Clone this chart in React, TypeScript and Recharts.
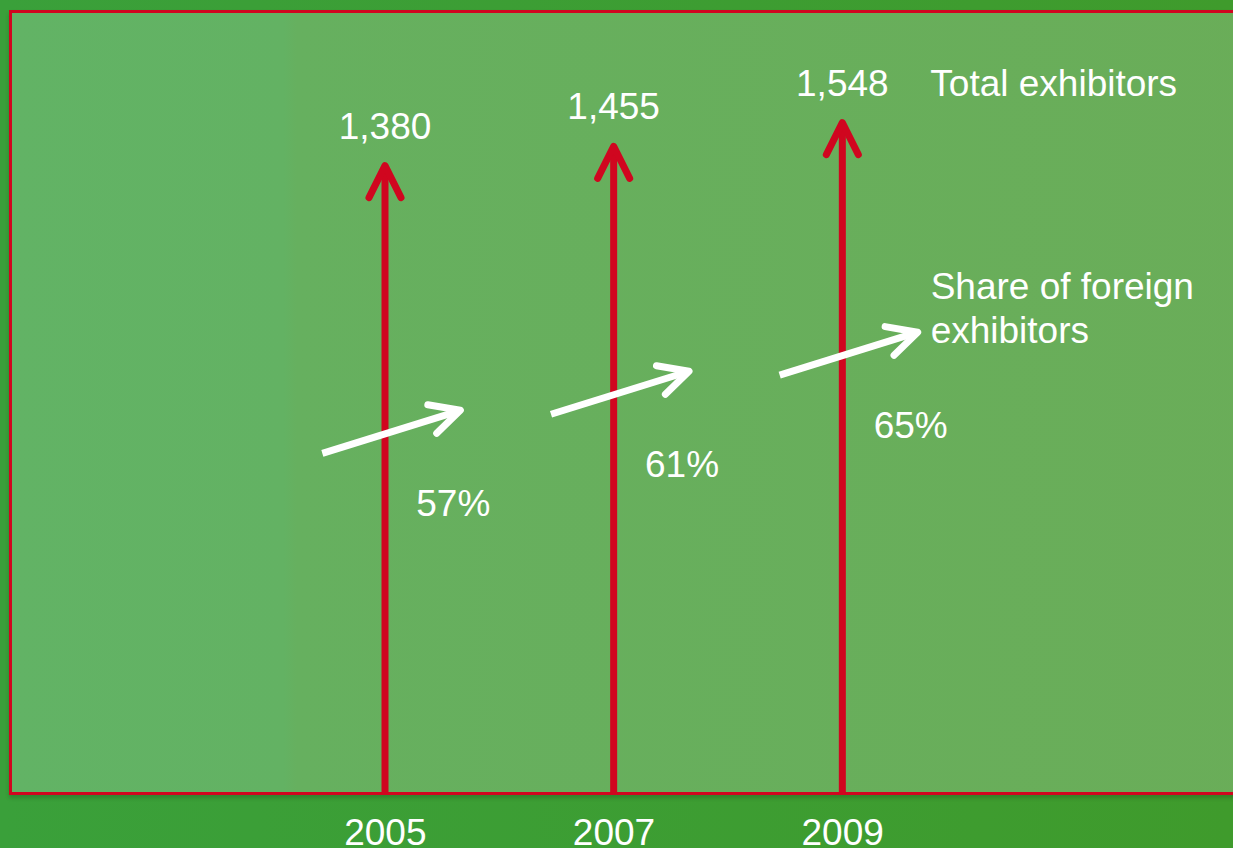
import { ComposedChart, Bar, Line, XAxis, YAxis } from 'recharts'

const years = ['2005', '2007', '2009']
const totalExhibitors = [1380, 1455, 1548]
const foreignShare = [57, 61, 65]

const RED = '#d0061f'
const FONT = '"Liberation Sans", Arial, sans-serif'
const FS = 37
const TOTAL_MIN = -1070

const data = years.map((year, i) => ({
  year,
  total: totalExhibitors[i],
  share: foreignShare[i],
}))

const ExhibitorArrow = (props: any) => {
  const { x, y, width, height, index, payload } = props
  const cx = x + width / 2
  const top = Math.min(y, y + height)
  const bottom = Math.max(y, y + height)
  const last = index === data.length - 1
  return (
    <g>
      <line x1={cx} y1={bottom + 2} x2={cx} y2={top + 4} stroke={RED} strokeWidth={7} />
      <polyline
        points={`${cx - 16},${top + 32} ${cx},${top} ${cx + 16},${top + 32}`}
        fill="none"
        stroke={RED}
        strokeWidth={7}
        strokeLinecap="round"
        strokeLinejoin="round"
      />
      <text x={cx} y={top - 27} textAnchor="middle" fill="#fff" fontSize={FS} fontFamily={FONT}>
        {payload.total.toLocaleString('en-US')}
      </text>
      {last && (
        <text x={cx + 88} y={top - 27} fill="#fff" fontSize={FS} fontFamily={FONT}>
          Total exhibitors
        </text>
      )}
    </g>
  )
}

const ShareArrow = (props: any) => {
  const { cx, cy, index, payload } = props
  const mx = cx + 6
  const x1 = mx - 69
  const y1 = cy + 21.5
  const x2 = mx + 69
  const y2 = cy - 21.5
  const a = Math.atan2(y2 - y1, x2 - x1)
  const spread = (27 * Math.PI) / 180
  const len = 33
  const ax1 = x2 - len * Math.cos(a - spread)
  const ay1 = y2 - len * Math.sin(a - spread)
  const ax2 = x2 - len * Math.cos(a + spread)
  const ay2 = y2 - len * Math.sin(a + spread)
  const last = index === data.length - 1
  return (
    <g key={`share-${index}`}>
      <line x1={x1} y1={y1} x2={x2 - 3} y2={y2 + 1} stroke="#fff" strokeWidth={7} />
      <polyline
        points={`${ax1},${ay1} ${x2},${y2} ${ax2},${ay2}`}
        fill="none"
        stroke="#fff"
        strokeWidth={7}
        strokeLinecap="round"
        strokeLinejoin="round"
      />
      <text x={cx + 68} y={cy + 84} textAnchor="middle" fill="#fff" fontSize={FS} fontFamily={FONT}>
        {payload.share}%
      </text>
      {last && (
        <text x={cx + 88} y={cy - 55} fill="#fff" fontSize={FS} fontFamily={FONT}>
          <tspan x={cx + 88}>Share of foreign</tspan>
          <tspan x={cx + 88} dy={44}>exhibitors</tspan>
        </text>
      )}
    </g>
  )
}

const YearTick = ({ x, y, payload }: any) => (
  <text x={x} y={y + 52} textAnchor="middle" fill="#fff" fontSize={FS} fontFamily={FONT}>
    {payload.value}
  </text>
)

export default function App() {
  return (
    <div
      style={{
        position: 'absolute',
        left: 0,
        top: 0,
        width: 1233,
        height: 848,
        overflow: 'hidden',
        background: 'linear-gradient(90deg, #3aa03a, #3f9b2c)',
      }}
    >
      <div
        style={{
          position: 'absolute',
          left: 9,
          top: 10,
          width: 1300,
          height: 785,
          boxSizing: 'border-box',
          border: `3px solid ${RED}`,
          background: 'linear-gradient(90deg, #62b365 0%, #63b263 21%, #66b05f 22%, #6aad58 100%)',
          boxShadow: '0 3px 4px rgba(0,0,0,0.18)',
        }}
      />
      <div style={{ position: 'absolute', left: 0, top: 0 }}>
        <ComposedChart
          width={1250}
          height={848}
          data={data}
          margin={{ top: 12, right: 10, left: 10, bottom: 0 }}
        >
          <XAxis
            dataKey="year"
            height={55}
            padding={{ left: 261, right: 283 }}
            axisLine={false}
            tickLine={false}
            tickSize={0}
            tickMargin={0}
            tick={<YearTick />}
            interval={0}
          />
          <YAxis yAxisId="total" hide domain={[TOTAL_MIN, 1980]} />
          <YAxis yAxisId="share" hide domain={[20, 100]} />
          <Bar
            yAxisId="total"
            dataKey={(d: any) => [TOTAL_MIN, d.total]}
            barSize={10}
            shape={<ExhibitorArrow />}
            isAnimationActive={false}
          />
          <Line
            yAxisId="share"
            dataKey="share"
            stroke="none"
            dot={(p: any) => <ShareArrow key={`s-${p.index}`} {...p} />}
            activeDot={false}
            isAnimationActive={false}
          />
        </ComposedChart>
      </div>
    </div>
  )
}
